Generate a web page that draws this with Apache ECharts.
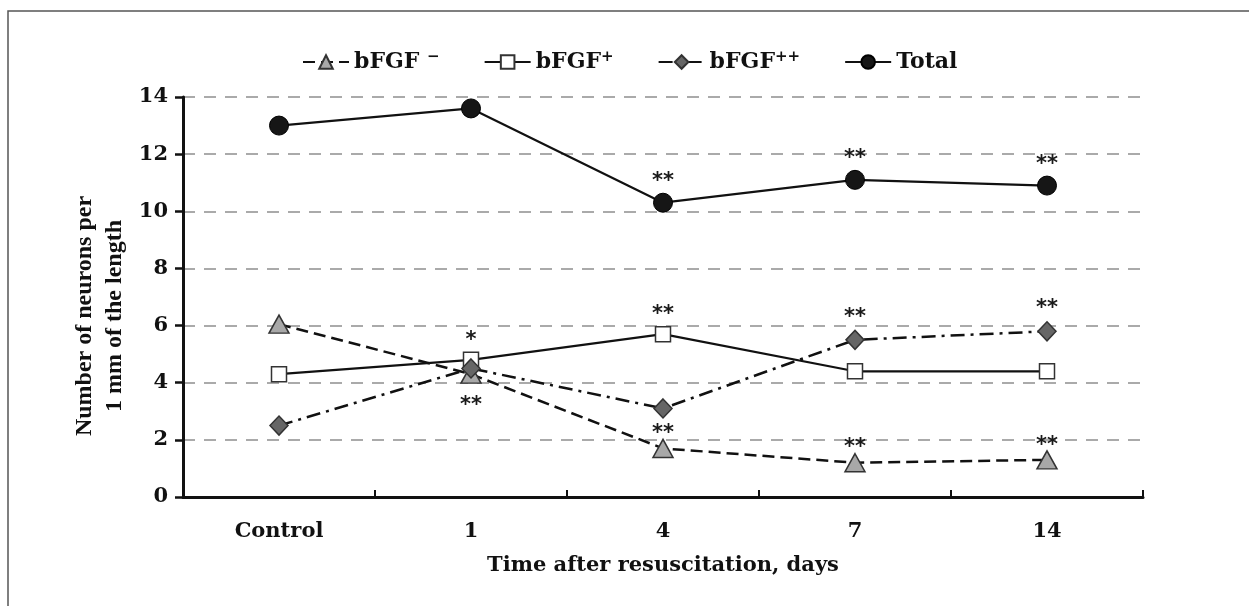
<!DOCTYPE html>
<html>
<head>
<meta charset="utf-8">
<title>bFGF neurons</title>
<script src="https://cdn.jsdelivr.net/npm/echarts@6/dist/echarts.min.js"></script>
<style>
  html, body { margin: 0; padding: 0; background: #fff; }
  #main { width: 1249px; height: 606px; }
</style>
</head>
<body>
<div id="main"></div>
<script>
// data
var days = ['Control', '1', '4', '7', '14']
var yTicks = [0, 2, 4, 6, 8, 10, 12, 14]

var bfgfMinus = [6.05, 4.3, 1.7, 1.2, 1.3]
var bfgfPlus = [4.3, 4.8, 5.7, 4.4, 4.4]
var bfgfPlusPlus = [2.5, 4.5, 3.1, 5.5, 5.8]
var total = [13.0, 13.6, 10.3, 11.1, 10.9]

// significance marks
var sigMinus = ['', '**', '**', '**', '**']
var sigPlus = ['', '*', '**', '', '']
var sigPlusPlus = ['', '', '', '**', '**']
var sigTotal = ['', '', '**', '**', '**']

var serifB = 'DejaVu Serif'
var ink = '#111'

function withMarks(values, marks, dist, belowIdx) {
  return values.map(function(v, i) {
    var below = i === belowIdx
    return {
      value: v,
      label: {
        show: !!marks[i],
        formatter: marks[i] || '',
        position: below ? 'bottom' : 'top',
        distance: below ? 12 : dist
      }
    }
  })
}

var markLabel = {
  color: '#1a1a1a',
  fontFamily: 'DejaVu Sans',
  fontWeight: 'bold',
  fontSize: 21,
  lineHeight: 20
}

var chart = echarts.init(document.getElementById('main'))
var option = {
  animation: false,
  backgroundColor: '#fff',
  legend: {
    left: 297,
    top: 45,
    itemWidth: 46,
    itemHeight: 17,
    itemGap: 44,
    formatter: function(name) {
      if (name === 'bFGF-') return '{t|bFGF }{s|\u2212}'
      if (name === 'bFGF+') return '{t|bFGF}{s|+}'
      if (name === 'bFGF++') return '{t|bFGF}{s|++}'
      return '{t|' + name + '}'
    },
    textStyle: {
      fontFamily: serifB, fontWeight: 'bold', fontSize: 22, color: ink,
      rich: {
        t: { fontFamily: serifB, fontWeight: 'bold', fontSize: 22, color: ink, lineHeight: 24 },
        s: { fontFamily: serifB, fontWeight: 'bold', fontSize: 15, color: ink, lineHeight: 24, verticalAlign: 'top', padding: [0, 0, 8, 0] }
      }
    },
    data: ['bFGF-', 'bFGF+', 'bFGF++', 'Total']
  },
  grid: { left: 183, right: 106, top: 97, bottom: 109, containLabel: false },
  xAxis: {
    type: 'category',
    data: days,
    boundaryGap: true,
    axisLine: { lineStyle: { color: ink, width: 3 } },
    axisTick: { show: true, inside: true, length: 7, lineStyle: { color: ink, width: 2 } },
    axisLabel: { margin: 24, fontFamily: serifB, fontWeight: 'bold', fontSize: 21, color: ink },
    name: 'Time after resuscitation, days',
    nameLocation: 'middle',
    nameGap: 58,
    nameTextStyle: { fontFamily: serifB, fontWeight: 'bold', fontSize: 21, color: ink }
  },
  yAxis: {
    type: 'value',
    min: yTicks[0],
    max: yTicks[yTicks.length - 1],
    interval: 2,
    axisLine: { show: true, lineStyle: { color: ink, width: 3 } },
    axisTick: { show: true, length: 8, lineStyle: { color: ink, width: 2.5 } },
    axisLabel: { margin: 15, fontFamily: serifB, fontWeight: 'bold', fontSize: 21, color: ink },
    splitLine: { show: true, lineStyle: { color: '#8f8f8f', width: 1.5, type: [12, 9] } }
  },
  graphic: [
    {
      type: 'rect',
      silent: true,
      shape: { x: 8, y: 11, width: 1400, height: 800 },
      style: { fill: 'none', stroke: '#555', lineWidth: 1.5 }
    },
    {
      type: 'text',
      silent: true,
      x: 100,
      y: 316,
      rotation: Math.PI / 2,
      style: {
        text: 'Number of neurons per\n1 mm of the length',
        fontFamily: 'Liberation Serif',
        fontWeight: 'bold',
        fontSize: 24,
        lineHeight: 30,
        fill: ink,
        align: 'center',
        verticalAlign: 'middle'
      }
    }
  ],
  series: [
    {
      name: 'bFGF-',
      type: 'line',
      symbol: 'triangle',
      symbolSize: [20, 18],
      data: withMarks(bfgfMinus, sigMinus, -5, 1),
      lineStyle: { color: ink, width: 2.5, type: [12, 6] },
      itemStyle: { color: '#a8a8a8', borderColor: '#333', borderWidth: 1.5 },
      label: markLabel
    },
    {
      name: 'bFGF+',
      type: 'line',
      symbol: 'rect',
      symbolSize: 15,
      data: withMarks(bfgfPlus, sigPlus, 1, -1),
      lineStyle: { color: ink, width: 2.2 },
      itemStyle: { color: '#fff', borderColor: '#333', borderWidth: 1.5 },
      label: markLabel
    },
    {
      name: 'bFGF++',
      type: 'line',
      symbol: 'diamond',
      symbolSize: [18, 19],
      data: withMarks(bfgfPlusPlus, sigPlusPlus, 2, -1),
      lineStyle: { color: ink, width: 2.5, type: [14, 6, 3, 6] },
      itemStyle: { color: '#666', borderColor: '#333', borderWidth: 1.5 },
      label: markLabel
    },
    {
      name: 'Total',
      type: 'line',
      symbol: 'circle',
      symbolSize: 19,
      data: withMarks(total, sigTotal, 1, -1),
      lineStyle: { color: ink, width: 2.2 },
      itemStyle: { color: '#161616', borderColor: '#000', borderWidth: 1 },
      label: markLabel
    }
  ]
}
chart.setOption(option)
</script>
</body>
</html>
